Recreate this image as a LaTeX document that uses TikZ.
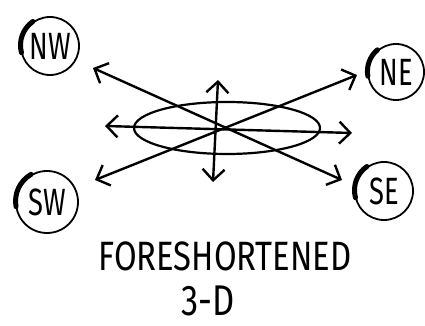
\documentclass[tikz,border=0pt]{standalone}
\usepackage{fontspec}
\usepackage{tikz}
\usetikzlibrary{arrows.meta, positioning}
\newfontfamily\handfont[FakeStretch=0.72]{Fira Sans}
\newfontfamily\titlefont[FakeStretch=0.8]{Fira Sans}

\begin{document}
\begin{tikzpicture}[
  x=1pt, y=1pt,
  compass/.style={draw, circle, line width=1.8pt, inner sep=0pt, font=\handfont\fontsize{38}{38}\selectfont},
  ray/.style={line width=2.4pt, {Straight Barb[length=11pt,width=22pt]}-{Straight Barb[length=11pt,width=22pt]}},
  blob/.style={line width=5pt, line cap=round},
  caption/.style={font=\titlefont\fontsize{41}{41}\selectfont, inner sep=0pt}
]
  \useasboundingbox (0,0) rectangle (425,326);

  \node[compass, minimum size=58pt] (NW) at (50,280) {NW};
  \node[compass, minimum size=56pt] (NE) at (396,254) {NE};
  \node[compass, minimum size=62pt] (SW) at (47,124) {SW};
  \node[compass, minimum size=58pt] (SE) at (384,135) {SE};

  \draw[blob] (NW.125) arc[start angle=125, end angle=195, radius=29pt];
  \draw[blob] (NE.130) arc[start angle=130, end angle=190, radius=28pt];
  \draw[blob] (SW.120) arc[start angle=120, end angle=190, radius=31pt];
  \draw[blob] (SE.125) arc[start angle=125, end angle=195, radius=29pt];

  \coordinate (hub) at (227,198);
  \coordinate (tipNW) at (93,258);
  \coordinate (tipSE) at (342,146);
  \coordinate (tipNE) at (357,251);
  \coordinate (tipSW) at (95,146);
  \coordinate (tipW) at (105,200);
  \coordinate (tipE) at (352,193);
  \coordinate (tipN) at (218,246);
  \coordinate (tipS) at (213,144);

  \draw[line width=2.2pt] (hub) ellipse[x radius=93, y radius=26];
  \draw[ray] (tipNW) -- (tipSE);
  \draw[ray] (tipNE) -- (tipSW);
  \draw[ray] (tipW) -- (tipE);
  \draw[ray] (tipN) -- (tipS);

  \node[caption] (title) at (225,70) {FORESHORTENED};
  \node[caption, font=\titlefont\fontsize{43}{43}\selectfont, anchor=base] (dim) at (208,10) {3-D};
\end{tikzpicture}
\end{document}
